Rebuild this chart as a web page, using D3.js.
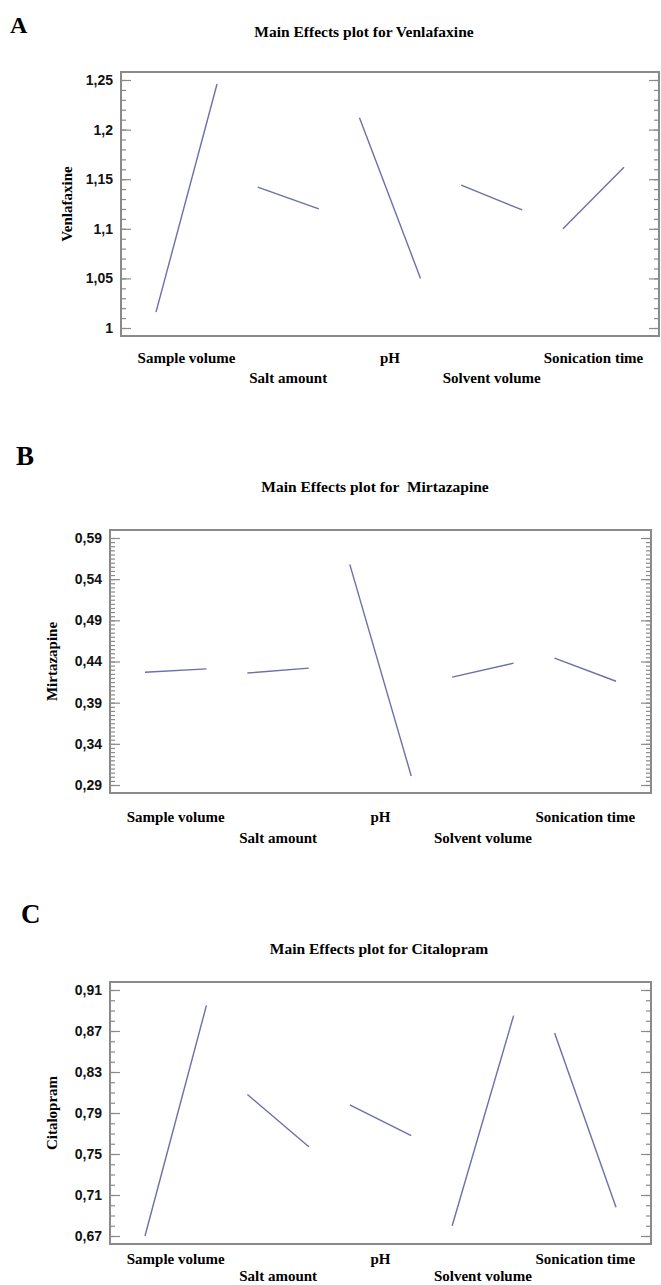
<!doctype html>
<html>
  <head>
    <script src="https://cdn.jsdelivr.net/npm/d3@7/dist/d3.min.js"></script>
    <style>
      body { margin: 0; background: #fff; }
      .tick text { font-family: "Liberation Sans", Arial, sans-serif; font-weight: bold; font-size: 14px; fill: #111; }
      .tick line { stroke: #8a8a8a; stroke-width: 1.2; }
      .domain { display: none; }
    </style>
  </head>
  <body>
    <div id="my_dataviz"></div>
    <script>
      // factors, in plot order
      var factors = ["Sample volume", "Salt amount", "pH", "Solvent volume", "Sonication time"];

      // [low, high] response for each factor
      var venlafaxine = [[1.016, 1.246], [1.142, 1.120], [1.212, 1.050], [1.144, 1.119], [1.100, 1.162]];
      var mirtazapine = [[0.427, 0.431], [0.426, 0.432], [0.558, 0.301], [0.421, 0.438], [0.444, 0.416]];
      var citalopram  = [[0.670, 0.895], [0.808, 0.757], [0.798, 0.768], [0.680, 0.885], [0.868, 0.698]];

      // tick values and their labels
      var venTicks = [1, 1.05, 1.1, 1.15, 1.2, 1.25];
      var venLabels = ["1", "1,05", "1,1", "1,15", "1,2", "1,25"];
      var mirTicks = [0.29, 0.34, 0.39, 0.44, 0.49, 0.54, 0.59];
      var mirLabels = ["0,29", "0,34", "0,39", "0,44", "0,49", "0,54", "0,59"];
      var citTicks = [0.67, 0.71, 0.75, 0.79, 0.83, 0.87, 0.91];
      var citLabels = ["0,67", "0,71", "0,75", "0,79", "0,83", "0,87", "0,91"];

      var lineColor = "#6e6eaa", frameColor = "#8a8a8a";
      var serif = "'Liberation Serif', 'Times New Roman', serif";

      var svg = d3.select("#my_dataviz")
        .append("svg")
          .attr("width", 661)
          .attr("height", 1285);

      var panels = [
        { letter: "A", lx: 10, ly: 33, lsize: 24,
          title: "Main Effects plot for Venlafaxine", tx: 364, ty: 37,
          yTitle: "Venlafaxine", ytx: 67,
          left: 121, right: 659, top: 72, bottom: 336,
          data: venlafaxine, ticks: venTicks, labels: venLabels, minor: 0.01,
          row1: 27, row2: 47 },
        { letter: "B", lx: 16, ly: 465, lsize: 27,
          title: "Main Effects plot for  Mirtazapine", tx: 375, ty: 492,
          yTitle: "Mirtazapine", ytx: 52,
          left: 110, right: 651, top: 530, bottom: 793,
          data: mirtazapine, ticks: mirTicks, labels: mirLabels, minor: 0.005,
          row1: 29, row2: 50 },
        { letter: "C", lx: 21, ly: 923, lsize: 27,
          title: "Main Effects plot for Citalopram", tx: 379, ty: 954,
          yTitle: "Citalopram", ytx: 52,
          left: 110, right: 651, top: 982, bottom: 1244,
          data: citalopram, ticks: citTicks, labels: citLabels, minor: 0.01,
          row1: 20, row2: 37 }
      ];

      panels.forEach(function(p) {
        var g = svg.append("g");

        // panel letter
        g.append("text")
          .attr("x", p.lx).attr("y", p.ly)
          .style("font-family", serif).style("font-weight", "bold")
          .style("font-size", p.lsize + "px")
          .text(p.letter);

        // title
        g.append("text")
          .attr("x", p.tx).attr("y", p.ty)
          .attr("text-anchor", "middle")
          .style("font-family", serif).style("font-weight", "bold")
          .style("font-size", "15.5px")
          .style("white-space", "pre")
          .text(p.title);

        // scales: 8px between outer ticks and the frame, 35px before first/after last point
        var lo = p.ticks[0], hi = p.ticks[p.ticks.length - 1];
        var y = d3.scaleLinear()
          .domain([lo, hi])
          .range([p.bottom - 8, p.top + 8]);
        var x = d3.scaleLinear()
          .domain([0, factors.length - 1 + 0.6])
          .range([p.left + 35, p.right - 35]);

        var minorTicks = d3.range(Math.round((hi - lo) / p.minor) + 1)
          .map(function(k) { return lo + k * p.minor; });

        // left ticks (inside) + labels
        g.append("g").attr("transform", "translate(" + p.left + ",0)")
          .call(d3.axisRight(y).tickValues(minorTicks).tickSize(5).tickFormat(""));
        g.append("g").attr("transform", "translate(" + p.left + ",0)")
          .call(d3.axisRight(y).tickValues(p.ticks).tickSize(10).tickFormat(""));
        g.append("g").attr("transform", "translate(" + p.left + ",0)")
          .call(d3.axisLeft(y).tickValues(p.ticks).tickSize(0).tickPadding(8)
            .tickFormat(function(d, i) { return p.labels[i]; }));

        // right ticks (inside)
        g.append("g").attr("transform", "translate(" + p.right + ",0)")
          .call(d3.axisLeft(y).tickValues(minorTicks).tickSize(5).tickFormat(""));
        g.append("g").attr("transform", "translate(" + p.right + ",0)")
          .call(d3.axisLeft(y).tickValues(p.ticks).tickSize(10).tickFormat(""));

        // frame
        g.append("rect")
          .attr("x", p.left).attr("y", p.top)
          .attr("width", p.right - p.left).attr("height", p.bottom - p.top)
          .attr("fill", "none").attr("stroke", frameColor).attr("stroke-width", 2);

        // y title
        g.append("text")
          .attr("transform", "translate(" + p.ytx + "," + ((p.top + p.bottom) / 2) + ") rotate(-90)")
          .attr("text-anchor", "middle")
          .attr("dy", "0.35em")
          .style("font-family", serif).style("font-weight", "bold")
          .style("font-size", "15px")
          .text(p.yTitle);

        // main effect segments
        g.selectAll("line.effect")
          .data(p.data)
          .enter()
          .append("line")
            .attr("class", "effect")
            .attr("x1", function(d, i) { return x(i); })
            .attr("x2", function(d, i) { return x(i + 0.6); })
            .attr("y1", function(d) { return y(d[0]); })
            .attr("y2", function(d) { return y(d[1]); })
            .attr("stroke", lineColor)
            .attr("stroke-width", 1.4);

        // factor labels, staggered on two rows
        g.selectAll("text.factor")
          .data(factors)
          .enter()
          .append("text")
            .attr("class", "factor")
            .attr("x", function(d, i) { return x(i + 0.3); })
            .attr("y", function(d, i) { return p.bottom + (i % 2 === 0 ? p.row1 : p.row2); })
            .attr("text-anchor", "middle")
            .style("font-family", serif).style("font-weight", "bold")
            .style("font-size", "15px")
            .text(function(d) { return d; });
      });
    </script>
  </body>
</html>
